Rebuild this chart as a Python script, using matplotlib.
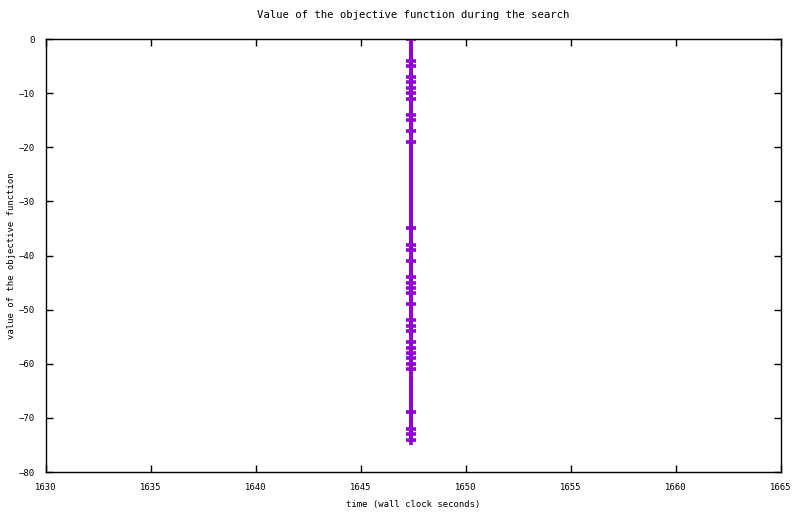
import matplotlib
matplotlib.use('Agg')
import matplotlib.pyplot as plt

# wall clock time of every evaluation (all at the same moment)
objective = [0, -4, -5, -7, -8, -9, -10, -11, -14, -15, -17, -19,
             -35, -38, -39, -41, -44, -45, -46, -47, -49, -52, -53, -54,
             -56, -57, -58, -59, -60, -61, -69, -72, -73, -74]
times = [1647.4] * len(objective)

xticks = [1630, 1635, 1640, 1645, 1650, 1655, 1660, 1665]
yticks = [0, -10, -20, -30, -40, -50, -60, -70, -80]

plt.rcParams['font.family'] = ['DejaVu Sans Mono']
plt.rcParams['font.size'] = 6.4

fig = plt.figure(figsize=(8, 5.14), dpi=100)
ax = fig.add_axes([0.0575, 0.0817, 0.91875, 0.8424])

ax.plot(times, objective, color='#9400D3', linewidth=2.9,
        marker='+', markersize=7.6, markeredgewidth=2.6, solid_capstyle='butt')

ax.set_xlim(1630, 1665)
ax.set_ylim(-80, 0)
ax.set_xticks(xticks)
ax.set_yticks(yticks)
ax.tick_params(direction='in', length=5, width=1, top=True, right=True, pad=8)
for s in ax.spines.values():
    s.set_linewidth(1)

ax.set_title('Value of the objective function during the search', pad=15)
ax.set_xlabel('time (wall clock seconds)', labelpad=6)
ax.set_ylabel('value of the objective function', labelpad=2)

fig.savefig('out.png', dpi=100)
plt.close(fig)
